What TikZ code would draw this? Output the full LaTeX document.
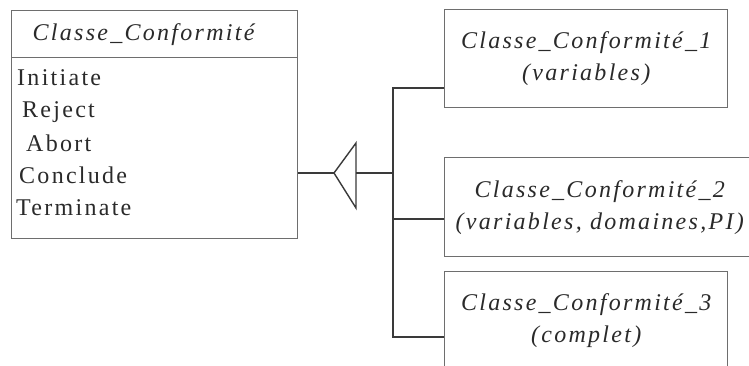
\documentclass[tikz,border=0pt]{standalone}
\usepackage{fontspec}
\setmainfont{Liberation Serif}[LetterSpace=9.5]
\usepackage{tikz}
\usetikzlibrary{positioning}

\definecolor{inkgray}{HTML}{2A2A2A}
\definecolor{rulegray}{HTML}{6E6E6E}
\definecolor{linkgray}{HTML}{3A3A3A}

\begin{document}
\begin{tikzpicture}[
  x=1pt, y=-1pt,
  classbox/.style={draw=rulegray, line width=1.4pt, inner sep=0pt, anchor=north west,
                   text=inkgray, font=\fontsize{24}{32}\selectfont\itshape, align=center},
  optext/.style={anchor=base west, inner sep=0pt, text=inkgray,
                 font=\fontsize{24}{32}\selectfont},
  link/.style={draw=linkgray, line width=1.4pt}
]
\useasboundingbox (0,0) rectangle (749,366);
\fill[white] (0,0) rectangle (749,366);
\clip (0,0) rectangle (749,366);

% parent class
\node[classbox, minimum width=286pt, minimum height=47pt, text width=286pt,
      align=left] (cls) at (11,10) {\hspace*{21pt}Classe\_Conformité};
\node[classbox, minimum width=286pt, minimum height=181pt] (ops) at (11,57) {};
\foreach \op/\dx/\by in {Initiate/17/86, Reject/22/118, Abort/26/152,
                         Conclude/19/183, Terminate/16/215}
  \node[optext] (op-\op) at (\dx,\by) {\op};

% sub classes
\node[classbox, minimum width=283pt, minimum height=98pt] (c1) at (444,9)
  {Classe\_Conformité\_1\\(variables)};
\node[classbox, minimum width=310pt, minimum height=99pt] (c2) at (444,157)
  {Classe\_Conformité\_2\\(variables, domaines,PI)};
\node[classbox, minimum width=283pt, minimum height=98pt] (c3) at (444,271)
  {Classe\_Conformité\_3\\(complet)};

% inheritance triangle and tree
\coordinate (tip) at (334,173);
\coordinate (btop) at (356,143);
\coordinate (bbot) at (356,208);
\coordinate (base) at (356,173);
\coordinate (j1) at (393,88);
\coordinate (j2) at (393,219);
\coordinate (j3) at (393,337);
\draw[link] (ops.east |- tip) -- (tip);
\draw[link, line join=miter] (tip) -- (btop) -- (bbot) -- cycle;
\draw[link] (base) -- (base -| j1);
\draw[link] (c1.west |- j1) -- (j1) -- (j3) -- (c3.west |- j3);
\draw[link] (j2) -- (c2.west |- j2);
\end{tikzpicture}
\end{document}
